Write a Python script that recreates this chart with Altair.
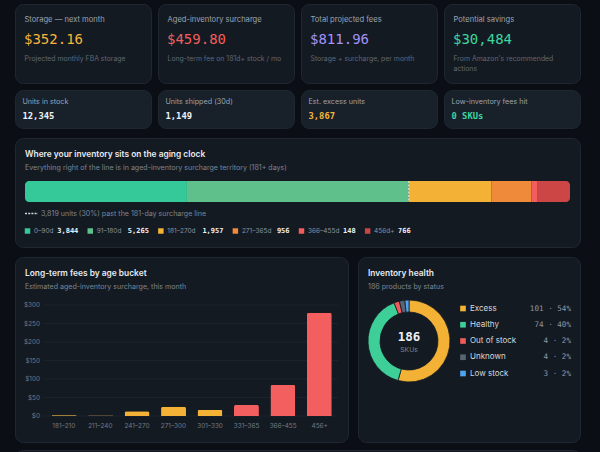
import altair as alt
import pandas as pd

# ---------------- data ----------------
kpi_titles = ["Storage — next month", "Aged-inventory surcharge", "Total projected fees", "Potential savings"]
kpi_values = ["$352.16", "$459.80", "$811.96", "$30,484"]
kpi_notes = [["Projected monthly FBA storage"], ["Long-term fee on 181d+ stock / mo"],
             ["Storage + surcharge, per month"], ["From Amazon's recommended", "actions"]]

stat_titles = ["Units in stock", "Units shipped (30d)", "Est. excess units", "Low-inventory fees hit"]
stat_values = ["12,345", "1,149", "3,867", "0 SKUs"]

age_buckets = ["0–90d", "91–180d", "181–270d", "271–365d", "366–455d", "456d+"]
age_units = [3844, 5265, 1957, 956, 148, 766]
past_line_units = 3819
past_line_pct = 30

fee_buckets = ["181–210", "211–240", "241–270", "271–300", "301–330", "331–365", "366–455", "456+"]
fee_values = [3.5, 3, 13, 25, 17, 30, 84, 279]
fee_ticks = [0, 50, 100, 150, 200, 250, 300]

health_status = ["Excess", "Healthy", "Out of stock", "Unknown", "Low stock"]
health_counts = [101, 74, 4, 4, 3]

# ---------------- styles ----------------
BG = "#0b0f15"
CARD = "#141a22"
CARD2 = "#18202a"
BORDER = "#1f2731"
SANS = "Inter"
MONO = "DejaVu Sans Mono"
TITLE_C = "#e6eaf0"
LABEL_C = "#9aa4b1"
MUTED_C = "#5d6876"
SUB_C = "#7b8694"
VALUE_C = "#eef1f5"
kpi_colors = ["#f5b53a", "#f15f5c", "#a393f8", "#3dd6a0"]
stat_colors = [VALUE_C, VALUE_C, "#f5b53a", "#3dd6a0"]
age_colors = ["#35c898", "#60c08b", "#f3b236", "#ef8a3b", "#f35d5d", "#cb4644"]
fee_colors = ["#a07c34", "#4f4535", "#f3b236", "#f3b236", "#f3b236", "#f35f5f", "#f35f5f", "#f35f5f"]
health_colors = ["#f3b236", "#3ecf98", "#ef5a5a", "#5b6472", "#4fa3ef"]


def col_x(i):
    return 15 + i * 143


def sans_width(s, size):
    # rough advance widths (em) for legend layout
    w = 0.0
    for ch in s:
        if ch.isdigit():
            w += 0.56
        elif ch == "–":
            w += 0.45
        else:
            w += 0.55
    return w * size


def text_layer(rows, size, color=None, font=SANS, weight="normal", align="left", color_field=False):
    kw = dict(font=font, fontSize=size, fontWeight=weight, align=align, baseline="middle")
    if color:
        kw["color"] = color
    enc = dict(x=alt.X("x:Q", scale=None, axis=None), y=alt.Y("y:Q", scale=None, axis=None), text="t:N")
    if color_field:
        enc["color"] = alt.Color("c:N", scale=None, legend=None)
    return alt.Chart(pd.DataFrame(rows)).mark_text(**kw).encode(**enc)


layers = []

# ---------------- cards ----------------
cards = []
for i in range(4):
    x0 = col_x(i) + 0.5
    cards.append(dict(x=x0, x2=x0 + 136, y=4.5, y2=83.5, f=CARD))
    cards.append(dict(x=x0, x2=x0 + 136, y=90.5, y2=128.5, f=CARD2))
cards += [dict(x=15.5, x2=580.5, y=138.5, y2=247.5, f=CARD),
          dict(x=15.5, x2=348.5, y=257.5, y2=442.5, f=CARD),
          dict(x=358.5, x2=580.5, y=257.5, y2=442.5, f=CARD),
          dict(x=15.5, x2=580.5, y=450.5, y2=520, f=CARD)]
layers.append(alt.Chart(pd.DataFrame(cards)).mark_rect(cornerRadius=8, stroke=BORDER, strokeWidth=1).encode(
    x=alt.X("x:Q", scale=None, axis=None), x2="x2:Q",
    y=alt.Y("y:Q", scale=None, axis=None), y2="y2:Q",
    fill=alt.Fill("f:N", scale=None, legend=None)))

# ---------------- KPI cards ----------------
layers.append(text_layer([dict(x=col_x(i) + 9.5, y=19.5, t=t) for i, t in enumerate(kpi_titles)], 7.6, LABEL_C))
layers.append(text_layer([dict(x=col_x(i) + 9, y=39.5, t=t, c=kpi_colors[i]) for i, t in enumerate(kpi_values)],
                         14, font=MONO, color_field=True))
note_rows = []
for i, lines in enumerate(kpi_notes):
    for j, line in enumerate(lines):
        note_rows.append(dict(x=col_x(i) + 9.5, y=58.5 + j * 10, t=line))
layers.append(text_layer(note_rows, 6.9, MUTED_C))

layers.append(text_layer([dict(x=col_x(i) + 7.5, y=101.5, t=t) for i, t in enumerate(stat_titles)], 7.2, LABEL_C))
layers.append(text_layer([dict(x=col_x(i) + 7.5, y=115.5, t=t, c=stat_colors[i]) for i, t in enumerate(stat_values)],
                         8.8, font=MONO, weight="bold", color_field=True))

# ---------------- aging clock ----------------
layers.append(text_layer([dict(x=25, y=154, t="Where your inventory sits on the aging clock")], 8.4, TITLE_C, weight=600))
layers.append(text_layer([dict(x=25, y=168, t="Everything right of the line is in aged-inventory surcharge territory (181+ days)")],
                         7.1, SUB_C))

age_df = pd.DataFrame({"bucket": age_buckets, "units": age_units, "idx": list(range(len(age_buckets)))})
last = len(age_buckets) - 1
bx = alt.Scale(domain=[0, sum(age_units)], range=[25, 570], nice=False, zero=False)
layers.append(alt.Chart(age_df).transform_window(
    cum="sum(units)", sort=[alt.SortField("idx")]
).transform_calculate(start="datum.cum - datum.units").mark_rect(
    cornerRadiusTopLeft={"expr": "datum.idx == 0 ? 4 : 0"},
    cornerRadiusBottomLeft={"expr": "datum.idx == 0 ? 4 : 0"},
    cornerRadiusTopRight={"expr": f"datum.idx == {last} ? 4 : 0"},
    cornerRadiusBottomRight={"expr": f"datum.idx == {last} ? 4 : 0"},
).encode(
    x=alt.X("start:Q", scale=bx, axis=None), x2="cum:Q",
    y=alt.value(181), y2=alt.value(202),
    color=alt.Color("bucket:N", scale=alt.Scale(domain=age_buckets, range=age_colors), legend=None)))

layers.append(alt.Chart(pd.DataFrame({"v": [sum(age_units[:2])]})).mark_rule(
    color="#e8edf2", strokeDash=[2, 1.5], strokeWidth=1).encode(
    x=alt.X("v:Q", scale=bx, axis=None), y=alt.value(181), y2=alt.value(202)))

layers.append(alt.Chart(pd.DataFrame({"k": [0]})).mark_rule(
    color="#d5dbe3", strokeDash=[2, 1.2], strokeWidth=1.5).encode(
    x=alt.value(25), x2=alt.value(38), y=alt.value(213.5)))
layers.append(text_layer([dict(x=41, y=213.5,
                               t=f"{past_line_units:,} units ({past_line_pct}%) past the 181-day surcharge line")],
                         7.1, SUB_C))

# legend positions built from text lengths
leg_rows = []
cx = 27.5
for i, (b, u) in enumerate(zip(age_buckets, age_units)):
    name_x = cx + 6.5
    val_x = name_x + sans_width(b, 7) + 4.5
    v = f"{u:,}"
    leg_rows.append(dict(bucket=b, sq=cx, nx=name_x, vx=val_x, name=b, val=v))
    cx = val_x + len(v) * 4.2 + 12
leg_df = pd.DataFrame(leg_rows)
age_color = alt.Color("bucket:N", scale=alt.Scale(domain=age_buckets, range=age_colors), legend=None)
layers.append(alt.Chart(leg_df).mark_square(size=30, opacity=1, cornerRadius=1).encode(
    x=alt.X("sq:Q", scale=None, axis=None), y=alt.value(231), color=age_color))
layers.append(alt.Chart(leg_df).mark_text(font=SANS, fontSize=6.5, color="#8792a0", align="left", baseline="middle").encode(
    x=alt.X("nx:Q", scale=None, axis=None), y=alt.value(231), text="name:N"))
layers.append(alt.Chart(leg_df).mark_text(font=MONO, fontSize=7, fontWeight="bold", color=VALUE_C, align="left",
                                          baseline="middle").encode(
    x=alt.X("vx:Q", scale=None, axis=None), y=alt.value(231), text="val:N"))

# ---------------- fees by age bucket ----------------
layers.append(text_layer([dict(x=25, y=273, t="Long-term fees by age bucket")], 8.4, TITLE_C, weight=600))
layers.append(text_layer([dict(x=25, y=287, t="Estimated aged-inventory surcharge, this month")], 7.1, SUB_C))

fx = alt.Scale(domain=fee_buckets, range=[45.5, 338], paddingInner=0.316, paddingOuter=0.17)
fy = alt.Scale(domain=[0, 300], range=[416, 305], nice=False)
tick_df = pd.DataFrame({"v": fee_ticks})
layers.append(alt.Chart(tick_df).mark_rule(color="#1c232d", strokeWidth=1).encode(
    y=alt.Y("v:Q", scale=fy, axis=None), x=alt.value(44), x2=alt.value(338)))
layers.append(alt.Chart(tick_df).transform_calculate(lab="'$' + datum.v").mark_text(
    font=SANS, fontSize=6.4, color="#6f7a88", align="right", baseline="middle").encode(
    y=alt.Y("v:Q", scale=fy, axis=None), x=alt.value(40), text="lab:N"))

fee_df = pd.DataFrame({"bucket": fee_buckets, "fee": fee_values})
layers.append(alt.Chart(fee_df).mark_bar(cornerRadiusTopLeft=2, cornerRadiusTopRight=2).encode(
    x=alt.X("bucket:N", sort=fee_buckets, scale=fx, axis=None),
    y=alt.Y("fee:Q", scale=fy, axis=None),
    color=alt.Color("bucket:N", scale=alt.Scale(domain=fee_buckets, range=fee_colors), legend=None)))
layers.append(alt.Chart(fee_df).mark_text(font=SANS, fontSize=6.4, color="#6f7a88", baseline="middle").encode(
    x=alt.X("bucket:N", sort=fee_buckets, scale=fx, axis=None), y=alt.value(426), text="bucket:N"))

# ---------------- inventory health ----------------
total_skus = sum(health_counts)
layers.append(text_layer([dict(x=368, y=273, t="Inventory health")], 8.4, TITLE_C, weight=600))
layers.append(text_layer([dict(x=368, y=287, t=f"{total_skus} products by status")], 7.1, SUB_C))

health_df = pd.DataFrame({"status": health_status, "count": health_counts, "idx": list(range(len(health_status)))})
hcolor = alt.Color("status:N", scale=alt.Scale(domain=health_status, range=health_colors), legend=None)
layers.append(alt.Chart(health_df).mark_arc(innerRadius=29, outerRadius=41, stroke=CARD, strokeWidth=0.8).encode(
    theta=alt.Theta("count:Q", stack=True),
    order=alt.Order("idx:Q"),
    color=hcolor, x=alt.value(409), y=alt.value(341)))
layers.append(text_layer([dict(x=409, y=336.5, t=str(total_skus))], 12.5, VALUE_C, font=MONO, weight=600,
                         align="center"))
layers.append(text_layer([dict(x=409, y=350, t="SKUs")], 6.8, "#7b8694", align="center"))

hy = alt.Scale(type="point", domain=health_status, range=[308.5, 373.5], padding=0)
layers.append(alt.Chart(health_df).mark_square(size=32, opacity=1, cornerRadius=1).encode(
    y=alt.Y("status:N", scale=hy, axis=None), x=alt.value(463), color=hcolor))
layers.append(alt.Chart(health_df).mark_text(font=SANS, fontSize=8, color="#d3d8df", align="left",
                                             baseline="middle").encode(
    y=alt.Y("status:N", scale=hy, axis=None), x=alt.value(470), text="status:N"))
layers.append(alt.Chart(health_df).transform_joinaggregate(total="sum(count)").transform_calculate(
    lab="datum.count + ' · ' + round(datum.count / datum.total * 100) + '%'"
).mark_text(font=MONO, fontSize=7.6, color="#8d97a5", align="right", baseline="middle").encode(
    y=alt.Y("status:N", scale=hy, axis=None), x=alt.value(571), text="lab:N"))

chart = alt.layer(*layers).resolve_scale(
    x="independent", y="independent", color="independent", theta="independent"
).properties(
    width=600, height=452, padding=0, background=BG, autosize=alt.AutoSizeParams(type="none")
).configure_view(strokeWidth=0)

chart.save("out.html", embed_options={"renderer": "svg", "actions": False})
